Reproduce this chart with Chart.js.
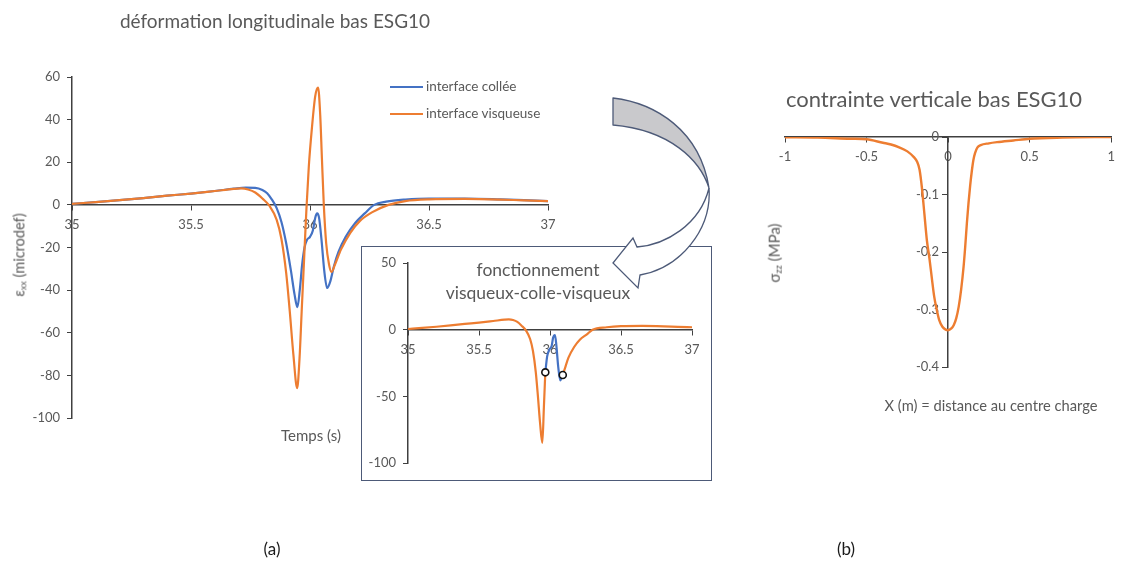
<!DOCTYPE html>
<html>
<head>
<meta charset="utf-8">
<script src="https://cdn.jsdelivr.net/npm/chart.js@4.4.1/dist/chart.umd.min.js"></script>
<style>
  html, body { margin: 0; padding: 0; background: #fff; }
  body { width: 1122px; height: 563px; position: relative; overflow: hidden;
         font-family: Lato, "Open Sans", sans-serif; color: #595959; }
  canvas { position: absolute; }
  .txt { position: absolute; white-space: nowrap; line-height: 1; transform: translate(-50%, -50%); }
  .left { transform: translate(0, -50%); }
  .rot { transform: translate(-50%, -50%) rotate(-90deg); }
  sub { font-size: 0.62em; vertical-align: -0.25em; }
  #inset { position: absolute; left: 361px; top: 246px; width: 351px; height: 235px;
           box-sizing: border-box; border: 1.5px solid #4d5a78; background: #fff; }
  .legline { position: absolute; width: 33px; height: 2px; }
  svg { position: absolute; left: 0; top: 0; }
</style>
</head>
<body>

<!-- (a) longitudinal strain at the bottom of ESG10 -->
<canvas id="chartA" width="600" height="440" style="left:0;top:0;width:600px;height:440px"></canvas>
<div class="txt" style="left:275px;top:20px;font-size:19px">déformation longitudinale bas ESG10</div>
<div class="txt rot" style="left:20px;top:255px;font-size:14.5px">ε<sub>xx</sub> (microdef)</div>
<div class="txt" style="left:311px;top:435px;font-size:15px">Temps (s)</div>
<div class="legline" style="left:390px;top:86px;background:#4472C4"></div>
<div class="txt left" style="left:426px;top:87px;font-size:13.5px">interface collée</div>
<div class="legline" style="left:390px;top:113px;background:#ED7D31"></div>
<div class="txt left" style="left:426px;top:114px;font-size:13.5px">interface visqueuse</div>

<!-- inset: viscous / bonded / viscous behaviour -->
<div id="inset"></div>
<canvas id="chartInset" width="351" height="235" style="left:361px;top:246px;width:351px;height:235px"></canvas>
<div class="txt" style="left:538px;top:270px;font-size:17.5px">fonctionnement</div>
<div class="txt" style="left:538px;top:293px;font-size:17.5px">visqueux-colle-visqueux</div>

<!-- curved arrow pointing to the inset -->
<svg width="1122" height="563" viewBox="0 0 1122 563">
  <path d="M613,98 C655,103 700,130 709,188 C700,160 670,130 613,125 Z"
        fill="#c9c9cc" stroke="#4d5a78" stroke-width="1.3" stroke-linejoin="round"/>
  <path d="M709,188 C712,230 680,268 640,275 L638,288 L613,263 L633,238 L637,247 C665,245 700,225 709,188 Z"
        fill="#ffffff" stroke="#4d5a78" stroke-width="1.3" stroke-linejoin="miter"/>
</svg>

<!-- (b) vertical stress at the bottom of ESG10 -->
<canvas id="chartB" width="382" height="320" style="left:740px;top:80px;width:382px;height:320px"></canvas>
<div class="txt" style="left:934px;top:99px;font-size:22px">contrainte verticale bas ESG10</div>
<div class="txt rot" style="left:775px;top:253px;font-size:15px">σ<sub>zz</sub> (MPa)</div>
<div class="txt" style="left:991px;top:405px;font-size:14.7px">X (m) = distance au centre charge</div>

<div class="txt" style="left:272px;top:548px;font-size:17px;color:#1a1a1a">(a)</div>
<div class="txt" style="left:846px;top:548px;font-size:17px;color:#1a1a1a">(b)</div>

<script>
// ---- (a) strain under the load passage, bonded vs viscous interface ----
const tempsColle = [35.00, 35.10, 35.20, 35.30, 35.40, 35.50, 35.60, 35.68, 35.73, 35.77, 35.80, 35.82,
  35.84, 35.86, 35.88, 35.90, 35.92, 35.935, 35.947, 35.957, 35.967, 35.977, 35.987, 36.00, 36.012,
  36.022, 36.03, 36.038, 36.048, 36.06, 36.072, 36.085, 36.10, 36.12, 36.15, 36.19, 36.23, 36.27,
  36.32, 36.40, 36.50, 36.65, 36.80, 36.90, 37.00];
const defColle = [0.5, 1.3, 2.2, 3.2, 4.3, 5.3, 6.5, 7.6, 8.1, 8.0, 7.0, 5.5,
  2.5, -1.5, -8, -18, -31, -42, -48, -40, -28, -20, -16.5, -15, -12,
  -6, -4, -6, -16, -31, -39, -36, -29, -22, -15, -8.5, -4, 0,
  1.5, 2.5, 3, 3, 2.6, 2.2, 1.8];

const tempsVisq = [35.00, 35.10, 35.20, 35.30, 35.40, 35.50, 35.60, 35.68, 35.71, 35.74, 35.77, 35.80,
  35.83, 35.86, 35.88, 35.90, 35.915, 35.93, 35.946, 35.956, 35.965, 35.975, 35.985, 35.995, 36.008,
  36.022, 36.034, 36.043, 36.05, 36.058, 36.068, 36.08, 36.09, 36.105, 36.13, 36.17, 36.21, 36.26,
  36.33, 36.40, 36.50, 36.65, 36.80, 36.90, 37.00];
const defVisq = [0.5, 1.3, 2.2, 3.2, 4.3, 5.3, 6.5, 7.5, 7.7, 7.2, 5.8, 3,
  -0.5, -7, -16, -32, -50, -70, -86, -72, -50, -26, -2, 18, 36,
  51, 55, 42, 22, 0, -18, -28, -31.5, -28, -21, -13, -7.5, -3.5,
  0, 1.8, 2.6, 2.8, 2.5, 2.1, 1.8];

// ---- inset: viscous before, bonded around the peak, viscous after ----
const tempsAvant = [35.00, 35.10, 35.20, 35.30, 35.40, 35.50, 35.60, 35.68, 35.71, 35.74, 35.77, 35.80,
  35.83, 35.86, 35.88, 35.90, 35.915, 35.93, 35.946, 35.957, 35.967];
const defAvant = [0.5, 1.3, 2.2, 3.2, 4.3, 5.3, 6.5, 7.5, 7.7, 7.2, 5.8, 3,
  -0.5, -7, -16, -32, -50, -70, -85, -58, -32];
const tempsColleInset = [35.967, 35.98, 35.995, 36.012, 36.022, 36.035, 36.045, 36.058, 36.072, 36.085, 36.09];
const defColleInset = [-32, -20, -15, -12, -6, -4, -12, -28, -38, -35, -34];
const tempsApres = [36.09, 36.105, 36.13, 36.17, 36.21, 36.26, 36.30, 36.40, 36.50, 36.65, 36.80, 36.90, 37.00];
const defApres = [-34, -29, -21, -13, -7.5, -3.5, 0, 1.8, 2.6, 2.8, 2.5, 2.1, 1.8];
const tempsTransition = [35.967, 36.09];
const defTransition = [-32, -34];

// ---- (b) vertical stress vs distance to the load centre ----
const distX = [-1, -0.8, -0.6, -0.5, -0.4, -0.35, -0.3, -0.25, -0.21, -0.19, -0.175, -0.16, -0.145,
  -0.13, -0.115, -0.1, -0.085, -0.07, -0.055, -0.035, -0.015, 0, 0.02, 0.035, 0.05, 0.065, 0.08,
  0.095, 0.105, 0.115, 0.125, 0.135, 0.145, 0.155, 0.165, 0.18, 0.2, 0.25, 0.3, 0.4, 0.5, 0.7, 1];
const sigmaZZ = [-0.0005, -0.001, -0.003, -0.004, -0.01, -0.013, -0.018, -0.025, -0.035, -0.043, -0.057,
  -0.09, -0.135, -0.18, -0.21, -0.245, -0.278, -0.3, -0.318, -0.33, -0.335, -0.336, -0.333, -0.327,
  -0.315, -0.295, -0.265, -0.225, -0.19, -0.15, -0.115, -0.085, -0.06, -0.04, -0.028, -0.018,
  -0.014, -0.011, -0.009, -0.006, -0.003, -0.001, 0];

const BLEU = '#4472C4';
const ORANGE = '#ED7D31';
const AXE = '#404040';
const GRIS = '#595959';

Chart.defaults.font.family = 'Lato, "Open Sans", sans-serif';
Chart.defaults.animation = false;

const pts = (xs, ys) => xs.map((x, i) => ({ x: x, y: ys[i] }));
// plain decimal labels: 35, 35.5, -0.1 ...
const etiquette = v => String(Math.round(v * 10) / 10);

function axe(min, max, step, extra, suffixe) {
  return Object.assign({
    type: 'linear', min: min, max: max,
    ticks: { stepSize: step, color: GRIS, font: { size: 13 }, padding: 7, autoSkip: false, maxRotation: 0,
             callback: v => etiquette(v) + (suffixe || '') },
    grid: { drawOnChartArea: false, drawTicks: true, tickLength: 5, color: AXE, lineWidth: 1 },
    border: { display: true, color: AXE, width: 1.5 }
  }, extra || {});
}

function courbe(data, color, width, order) {
  return { data: data, borderColor: color, backgroundColor: color, borderWidth: width,
           pointRadius: 0, cubicInterpolationMode: 'monotone', fill: false, order: order };
}

const baseOptions = (padding, scales) => ({
  responsive: false, devicePixelRatio: 1, animation: false,
  layout: { padding: padding },
  plugins: { legend: { display: false }, tooltip: { enabled: false }, title: { display: false } },
  scales: scales
});

// (a)
new Chart(document.getElementById('chartA'), {
  type: 'line',
  data: { datasets: [
    courbe(pts(tempsVisq, defVisq), ORANGE, 2.2, 0),
    courbe(pts(tempsColle, defColle), BLEU, 2.2, 1)
  ] },
  options: baseOptions({ left: 0, top: 77, right: 52, bottom: 22 }, {
    x: axe(35, 37, 0.5, { position: { y: 0 } }),
    y: axe(-100, 60, 20, { position: 'left', afterFit: s => { s.width = 72; } })
  })
});

// inset
new Chart(document.getElementById('chartInset'), {
  type: 'line',
  data: { datasets: [
    { data: pts(tempsTransition, defTransition), showLine: false, pointRadius: 3.5,
      pointBackgroundColor: '#ffffff', pointBorderColor: '#111111', pointBorderWidth: 1.6, order: -1 },
    courbe(pts(tempsAvant, defAvant), ORANGE, 2.2, 0),
    courbe(pts(tempsApres, defApres), ORANGE, 2.2, 0),
    courbe(pts(tempsColleInset, defColleInset), BLEU, 2.2, 1)
  ] },
  options: baseOptions({ left: 0, top: 17, right: 20, bottom: 18 }, {
    x: axe(35, 37, 0.5, { position: { y: 0 } }),
    y: axe(-100, 50, 50, { position: 'left', afterFit: s => { s.width = 47; } })
  })
});

// (b): y axis sits on x = 0, labels pushed left of its tick marks
new Chart(document.getElementById('chartB'), {
  type: 'line',
  data: { datasets: [ courbe(pts(distX, sigmaZZ), ORANGE, 2.4, 0) ] },
  options: baseOptions({ left: 45, top: 57, right: 5, bottom: 33 }, {
    x: axe(-1, 1, 0.5, { position: { y: 0 } }),
    y: axe(-0.4, 0, 0.1, { position: { x: 0 } }, '\u2007\u2009')
  })
});
</script>
</body>
</html>
